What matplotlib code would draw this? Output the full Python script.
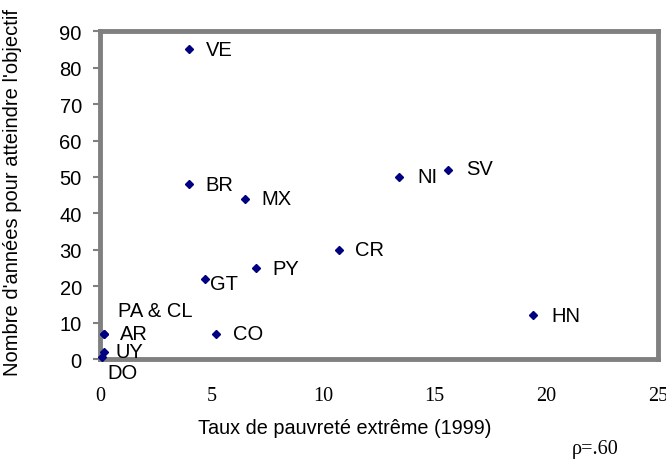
import matplotlib
matplotlib.use("Agg")
import matplotlib.pyplot as plt

# DATA
countries = ["VE", "BR", "MX", "NI", "SV", "CR", "PY", "GT", "CO", "HN",
             "AR", "UY", "DO", "PA & CL"]
poverty = [4.0, 4.0, 6.5, 13.4, 15.6, 10.7, 7.0, 4.7, 5.2, 19.4,
           0.2, 0.2, 0.1, 0.2]
years = [85, 48, 44, 50, 52, 30, 25, 22, 7, 12, 7, 2, 0.5, 7]
xticks = [0, 5, 10, 15, 20, 25]
yticks = [0, 10, 20, 30, 40, 50, 60, 70, 80, 90]

# label offsets (points) from each dot
offsets = {
    "VE": (12, 0), "BR": (12, 0), "MX": (12, 0), "NI": (13, 0),
    "SV": (13, 1), "CR": (12, 0), "PY": (12, 0), "GT": (4, -3),
    "CO": (12, 0), "HN": (13, 0), "AR": (11, 0), "UY": (8, 0),
    "DO": (4, -11), "PA & CL": (10, 17),
}

SANS = "Liberation Sans"
SERIF = "Liberation Serif"
GREY = "#808080"

fig = plt.figure(figsize=(6.66, 4.6), dpi=100)
ax = fig.add_axes([0.150, 0.217, 0.838, 0.713])

ax.plot(poverty, years, linestyle="none", marker="D", markersize=4.5,
        color="#000080", clip_on=False, zorder=3)

for name, x, y in zip(countries, poverty, years):
    dx, dy = offsets[name]
    ax.annotate(name, (x, y), xytext=(dx, dy), textcoords="offset points",
                ha="left", va="center", fontsize=14.5, family=SANS, color="black")

ax.set_xlim(0, 25)
ax.set_ylim(0, 90)
ax.set_xticks(xticks)
ax.set_yticks(yticks)
ax.set_xticklabels([str(t) for t in xticks], family=SERIF, fontsize=14.5)
ax.set_yticklabels([str(t) for t in yticks], family=SANS, fontsize=14.5)
ax.tick_params(axis="x", length=0, pad=19)
ax.tick_params(axis="y", length=5, width=1.5, color=GREY, pad=8)

for sp in ax.spines.values():
    sp.set_color(GREY)
    sp.set_linewidth(3.5)

ax.set_xlabel("Taux de pauvreté extrême (1999)", family=SANS, fontsize=14.3)
ax.xaxis.set_label_coords(0.439, -0.18)
ax.set_ylabel("Nombre d'années pour atteindre l'objectif", family=SANS,
              fontsize=14.5)
ax.yaxis.set_label_coords(-0.14, 0.512)

fig.text(0.859, 0.022, "ρ=.60", family=SERIF, fontsize=14.5, ha="left",
         va="center")

fig.savefig("out.png", dpi=100)
